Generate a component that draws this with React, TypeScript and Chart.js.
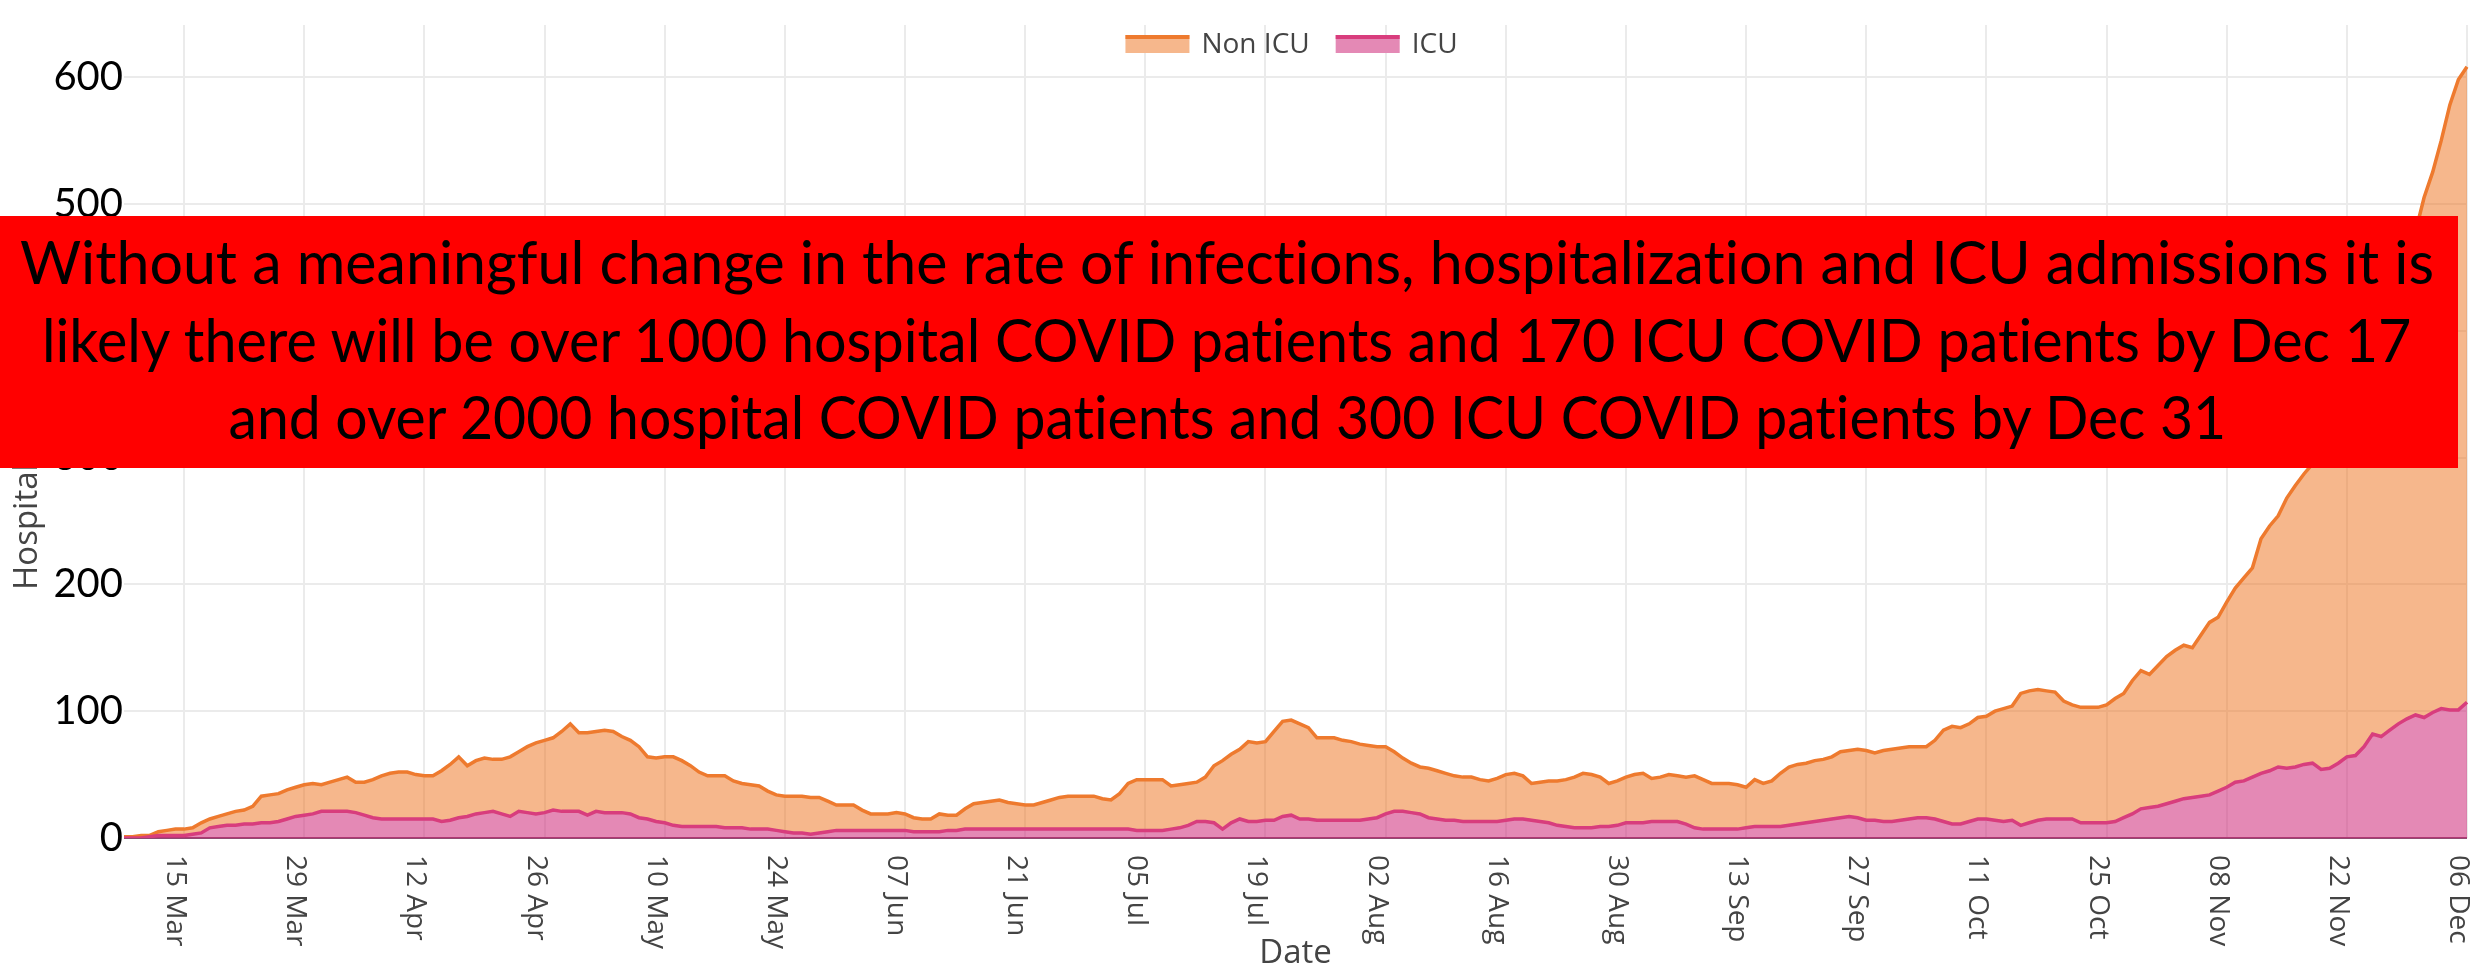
import React, { useEffect, useRef } from 'react';
import { Chart, registerables } from 'chart.js';

Chart.register(...registerables);

// ---------- data ----------
const START_DATE = '2020-03-08';

const NON_ICU = [
  1, 1, 2, 1, 3, 4, 5, 5, 5, 8,
  7, 8, 9, 11, 11, 14, 21, 22, 22, 23,
  23, 24, 24, 21, 23, 25, 27, 24, 26, 30,
  34, 36, 37, 37, 35, 34, 34, 40, 44, 48,
  40, 42, 43, 41, 43, 47, 47, 52, 56, 57,
  57, 63, 69, 62, 65, 63, 65, 64, 60, 58,
  56, 49, 50, 52, 54, 52, 48, 43, 40, 40,
  41, 37, 35, 35, 34, 30, 28, 28, 29, 29,
  29, 28, 24, 20, 20, 20, 16, 13, 13, 13,
  14, 13, 11, 10, 10, 14, 12, 12, 16, 20,
  21, 22, 23, 21, 20, 19, 19, 21, 23, 25,
  26, 26, 26, 26, 24, 23, 28, 36, 40, 40,
  40, 40, 34, 34, 33, 31, 35, 45, 54, 54,
  55, 63, 62, 62, 70, 75, 75, 75, 72, 65,
  65, 65, 63, 62, 60, 58, 56, 53, 47, 42,
  39, 37, 39, 38, 37, 35, 35, 35, 33, 32,
  34, 36, 36, 34, 29, 31, 33, 35, 37, 40,
  43, 42, 39, 34, 35, 36, 38, 39, 34, 35,
  37, 36, 37, 41, 39, 36, 36, 36, 35, 32,
  37, 34, 36, 42, 46, 47, 47, 48, 48, 49,
  52, 52, 54, 55, 53, 56, 57, 57, 57, 56,
  56, 62, 72, 77, 76, 77, 80, 81, 86, 89,
  90, 104, 104, 103, 101, 100, 93, 90, 91, 91,
  91, 93, 97, 98, 105, 109, 105, 111, 116, 119,
  121, 118, 127, 136, 137, 146, 153, 160, 165, 185,
  193, 198, 213, 222, 229, 236, 251, 263, 271, 278,
  290, 296, 300, 318, 330, 342, 358, 381, 410, 426,
  448, 477, 497, 501,
];

const ICU = [
  0, 0, 0, 1, 2, 2, 2, 2, 3, 4,
  8, 9, 10, 10, 11, 11, 12, 12, 13, 15,
  17, 18, 19, 21, 21, 21, 21, 20, 18, 16,
  15, 15, 15, 15, 15, 15, 15, 13, 14, 16,
  17, 19, 20, 21, 19, 17, 21, 20, 19, 20,
  22, 21, 21, 21, 18, 21, 20, 20, 20, 19,
  16, 15, 13, 12, 10, 9, 9, 9, 9, 9,
  8, 8, 8, 7, 7, 7, 6, 5, 4, 4,
  3, 4, 5, 6, 6, 6, 6, 6, 6, 6,
  6, 6, 5, 5, 5, 5, 6, 6, 7, 7,
  7, 7, 7, 7, 7, 7, 7, 7, 7, 7,
  7, 7, 7, 7, 7, 7, 7, 7, 6, 6,
  6, 6, 7, 8, 10, 13, 13, 12, 7, 12,
  15, 13, 13, 14, 14, 17, 18, 15, 15, 14,
  14, 14, 14, 14, 14, 15, 16, 19, 21, 21,
  20, 19, 16, 15, 14, 14, 13, 13, 13, 13,
  13, 14, 15, 15, 14, 13, 12, 10, 9, 8,
  8, 8, 9, 9, 10, 12, 12, 12, 13, 13,
  13, 13, 11, 8, 7, 7, 7, 7, 7, 8,
  9, 9, 9, 9, 10, 11, 12, 13, 14, 15,
  16, 17, 16, 14, 14, 13, 13, 14, 15, 16,
  16, 15, 13, 11, 11, 13, 15, 15, 14, 13,
  14, 10, 12, 14, 15, 15, 15, 15, 12, 12,
  12, 12, 13, 16, 19, 23, 24, 25, 27, 29,
  31, 32, 33, 34, 37, 40, 44, 45, 48, 51,
  53, 56, 55, 56, 58, 59, 54, 55, 59, 64,
  65, 72, 82, 80, 85, 90, 94, 97, 95, 99,
  102, 101, 101, 107,
];

const TICK_LABELS = [
  '15 Mar', '29 Mar', '12 Apr', '26 Apr', '10 May', '24 May', '07 Jun',
  '21 Jun', '05 Jul', '19 Jul', '02 Aug', '16 Aug', '30 Aug', '13 Sep',
  '27 Sep', '11 Oct', '25 Oct', '08 Nov', '22 Nov', '06 Dec',
];

const Y_MAX = 641;
const Y_STEP = 100;
const SERIES_NAMES = ['Non ICU', 'ICU'];
const X_TITLE = 'Date';
const Y_TITLE = 'Hospitalizations';

const BANNER_LINES = [
  'Without a meaningful change in the rate of infections, hospitalization and ICU admissions it is',
  'likely there will be over 1000 hospital COVID patients and 170 ICU COVID patients by Dec 17',
  'and over 2000 hospital COVID patients and 300 ICU COVID patients by Dec 31',
];
// measured rendered width of each banner line in the reference (px)
const BANNER_WIDTHS = [2414, 2369, 1998];

// ---------- styles ----------
const ORANGE_LINE = '#EE7A2E';
const ORANGE_FILL = 'rgba(238,112,25,0.5)';
const PINK_LINE = '#D83D7D';
const PINK_FILL = 'rgba(205,40,120,0.55)';
const GRID = '#ebebeb';
const AXIS_TEXT = '#444';

const MONTHS = ['Jan', 'Feb', 'Mar', 'Apr', 'May', 'Jun', 'Jul', 'Aug', 'Sep', 'Oct', 'Nov', 'Dec'];

function buildCategories(start: string, n: number): string[] {
  const out: string[] = [];
  const [y, m, d] = start.split('-').map(Number);
  for (let i = 0; i < n; i++) {
    const dt = new Date(Date.UTC(y, m - 1, d + i));
    const dd = String(dt.getUTCDate()).padStart(2, '0');
    out.push(`${dd} ${MONTHS[dt.getUTCMonth()]}`);
  }
  return out;
}

const CATEGORIES = buildCategories(START_DATE, NON_ICU.length);
const TICK_SET = new Set(TICK_LABELS);

const overlayPlugin = {
  id: 'overlayTexts',
  afterDraw(chart: any) {
    const { ctx, chartArea, scales } = chart;
    const xs = scales.x;
    const cats: string[] = chart.data.labels;
    ctx.save();
    // rotated x tick labels (clockwise)
    ctx.fillStyle = AXIS_TEXT;
    ctx.font = '28px "Open Sans"';
    ctx.textAlign = 'left';
    ctx.textBaseline = 'alphabetic';
    TICK_LABELS.forEach((lab) => {
      const i = cats.indexOf(lab);
      if (i < 0) return;
      const px = xs.getPixelForValue(i);
      ctx.save();
      ctx.translate(px, chartArea.bottom + 17);
      ctx.rotate(Math.PI / 2);
      ctx.fillText(lab, 0, 17);
      ctx.restore();
    });

    // y axis title
    ctx.save();
    ctx.font = '33px "Open Sans"';
    ctx.fillStyle = AXIS_TEXT;
    ctx.translate(37, 590);
    ctx.rotate(-Math.PI / 2);
    ctx.textAlign = 'left';
    ctx.textBaseline = 'alphabetic';
    ctx.fillText(Y_TITLE, 0, 0);
    ctx.restore();

    // legend
    const items = [
      { name: SERIES_NAMES[0], line: ORANGE_LINE, fill: ORANGE_FILL },
      { name: SERIES_NAMES[1], line: PINK_LINE, fill: PINK_FILL },
    ];
    ctx.font = '28px "Open Sans"';
    const sw = 64, gapText = 12, gapItem = 26;
    const widths = items.map((it) => ctx.measureText(it.name).width);
    const total = items.reduce((s, _it, k) => s + sw + gapText + widths[k], 0) + gapItem * (items.length - 1);
    let lx = (chartArea.left + chartArea.right) / 2 - 4 - total / 2;
    const ly = 44;
    items.forEach((it, k) => {
      ctx.fillStyle = '#fff';
      ctx.fillRect(lx, ly - 9, sw, 18);
      ctx.fillStyle = it.fill;
      ctx.fillRect(lx, ly - 9, sw, 18);
      ctx.strokeStyle = it.line;
      ctx.lineWidth = 4;
      ctx.beginPath();
      ctx.moveTo(lx, ly - 7);
      ctx.lineTo(lx + sw, ly - 7);
      ctx.stroke();
      ctx.fillStyle = AXIS_TEXT;
      ctx.textAlign = 'left';
      ctx.textBaseline = 'middle';
      ctx.fillText(it.name, lx + sw + gapText, ly + 1);
      lx += sw + gapText + widths[k] + gapItem;
    });
    ctx.restore();
  },
};

function Banner() {
  const ref = useRef<HTMLDivElement | null>(null);
  useEffect(() => {
    const apply = () => {
      const el = ref.current;
      if (!el) return;
      const spans = Array.from(el.querySelectorAll('span')) as HTMLSpanElement[];
      spans.forEach((sp, i) => {
        const w = sp.offsetWidth;
        if (w > 0) sp.style.transform = `scaleX(${BANNER_WIDTHS[i] / w})`;
      });
    };
    apply();
    if ((document as any).fonts) {
      (document as any).fonts.load('60px Lato').then(apply).catch(() => {});
    }
  }, []);
  return (
    <div
      style={{
        position: 'absolute',
        left: 0,
        top: 216,
        width: 2458,
        height: 252,
        background: '#FF0000',
        overflow: 'hidden',
      }}
    >
      <div
        ref={ref}
        style={{
          position: 'absolute',
          left: 0,
          top: 7,
          width: 2454,
          fontFamily: 'Lato, "Open Sans", sans-serif',
          fontSize: 60,
          lineHeight: '77.5px',
          color: '#000',
          fontVariantLigatures: 'none',
          fontFeatureSettings: '"liga" 0, "dlig" 0',
        }}
      >
        {BANNER_LINES.map((l) => (
          <div key={l} style={{ display: 'flex', justifyContent: 'center', width: 2454, whiteSpace: 'nowrap' }}>
            <span style={{ display: 'inline-block', transformOrigin: '50% 50%' }}>{l}</span>
          </div>
        ))}
      </div>
    </div>
  );
}

export default function App() {
  const canvasRef = useRef<HTMLCanvasElement | null>(null);

  useEffect(() => {
    document.body.style.margin = '0';
    const canvas = canvasRef.current;
    if (!canvas) return;
    const chart = new Chart(canvas, {
      type: 'line',
      data: {
        labels: CATEGORIES,
        datasets: [
          {
            label: SERIES_NAMES[1],
            data: ICU,
            borderColor: PINK_LINE,
            backgroundColor: PINK_FILL,
            fill: 'origin',
            borderWidth: 3.5,
            pointRadius: 0,
            tension: 0,
          },
          {
            label: SERIES_NAMES[0],
            data: NON_ICU,
            borderColor: ORANGE_LINE,
            backgroundColor: ORANGE_FILL,
            fill: '-1',
            borderWidth: 3.5,
            pointRadius: 0,
            tension: 0,
          },
        ],
      },
      options: {
        responsive: false,
        animation: false,
        devicePixelRatio: 1,
        layout: { padding: { top: 9, right: 16, left: 0, bottom: 0 } },
        plugins: { legend: { display: false }, tooltip: { enabled: false } },
        scales: {
          x: {
            type: 'category',
            offset: false,
            grid: {
              color: (c: any) => (TICK_SET.has(CATEGORIES[c.index]) ? GRID : 'rgba(0,0,0,0)'),
              lineWidth: 2,
              drawTicks: false,
            },
            border: { display: false },
            ticks: { display: false, autoSkip: false },
            title: {
              display: true,
              text: X_TITLE,
              color: AXIS_TEXT,
              font: { family: 'Open Sans', size: 33, lineHeight: 1 },
              padding: 0,
            },
            afterFit: (s: any) => {
              s.height = 132;
            },
          },
          y: {
            stacked: true,
            min: 0,
            max: Y_MAX,
            ticks: {
              stepSize: Y_STEP,
              includeBounds: false,
              color: '#000',
              font: { family: 'Lato', size: 40 },
              padding: 1,
            },
            grid: {
              color: (c: any) => (c.tick && c.tick.value === 0 ? '#8f4b70' : GRID),
              lineWidth: 2,
              drawTicks: false,
            },
            border: { display: false },
            afterFit: (s: any) => {
              s.width = 124;
            },
          },
        },
      },
      plugins: [overlayPlugin],
    } as any);

    let alive = true;
    const fonts = (document as any).fonts;
    if (fonts) {
      Promise.all([
        fonts.load('40px Lato'),
        fonts.load('28px "Open Sans"'),
        fonts.load('33px "Open Sans"'),
      ])
        .then(() => {
          if (alive) chart.update();
        })
        .catch(() => {});
    }
    return () => {
      alive = false;
      chart.destroy();
    };
  }, []);

  return (
    <div style={{ position: 'absolute', left: 0, top: 0, width: 2483, height: 970, background: '#fff', overflow: 'hidden' }}>
      <canvas ref={canvasRef} width={2483} height={970} style={{ position: 'absolute', left: 0, top: 0, width: 2483, height: 970 }} />
      <Banner />
    </div>
  );
}
